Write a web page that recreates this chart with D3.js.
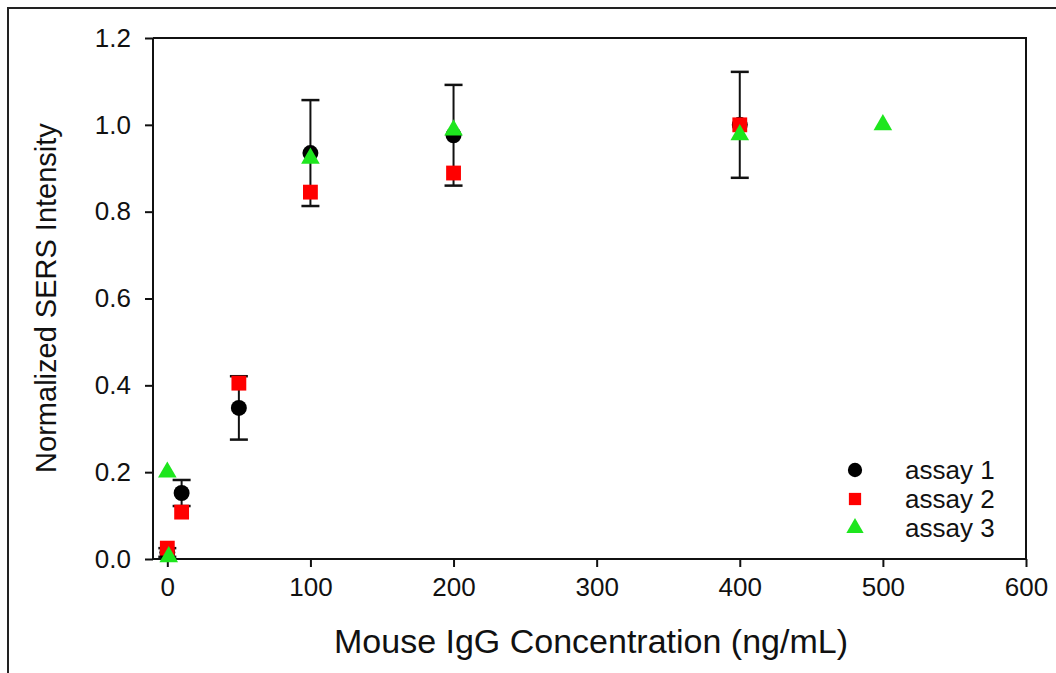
<!DOCTYPE html>
<html><head><meta charset="utf-8">
<script src="https://cdn.jsdelivr.net/npm/d3@7"></script>
<style>body{margin:0;background:#fff}svg{display:block}text{font-family:"Liberation Sans",Arial,sans-serif;fill:#111}</style>
</head><body><svg id="c" width="1056" height="673"></svg>
<script>
// data
const xTicks = [0,100,200,300,400,500,600];
const yTicks = [0,0.2,0.4,0.6,0.8,1.0,1.2];
const a1X = [0,10,50,100,200,400];
const a1Y = [0.015,0.152,0.348,0.935,0.976,1.0];
const a1Err = [0.01,0.03,0.073,0.122,0.116,0.122];
const a2X = [0,10,50,100,200,400];
const a2Y = [0.025,0.108,0.405,0.845,0.889,1.0];
const a3X = [0,1,100,200,400,500];
const a3Y = [0.2,0.005,0.923,0.988,0.977,1.0];
const legendLabels = ["assay 1","assay 2","assay 3"];
const xTitle = "Mouse IgG Concentration (ng/mL)";
const yTitle = "Normalized SERS Intensity";

const svg = d3.select("#c");
const L=153,R=1026,T=38,B=559;
const x = d3.scaleLinear().domain([-10,600]).range([L,R]);
const y = d3.scaleLinear().domain([0,1.2]).range([B,T]);

// outer border (left & top)
svg.append("path").attr("d","M8,673 L8,8 L1056,8").attr("fill","none").attr("stroke","#222").attr("stroke-width",2);

// frame top/right
svg.append("path").attr("d",`M${L},${T} L${R},${T} L${R},${B}`).attr("fill","none").attr("stroke","#111").attr("stroke-width",2);

const xa = svg.append("g").attr("transform",`translate(0,${B})`)
  .call(d3.axisBottom(x).tickValues(xTicks).tickFormat(d3.format("d")).tickSize(8).tickPadding(11));
const ya = svg.append("g").attr("transform",`translate(${L},0)`)
  .call(d3.axisLeft(y).tickValues(yTicks).tickFormat(d3.format(".1f")).tickSize(8).tickPadding(14));
[xa,ya].forEach(g=>{
  g.select(".domain").attr("stroke","#111").attr("stroke-width",2);
  g.selectAll(".tick line").attr("stroke","#111").attr("stroke-width",2);
  g.selectAll("text").style("font-size","26px").attr("fill","#111");
});
ya.select(".domain").attr("d",`M0,${B}V${T}`);
xa.select(".domain").attr("d",`M${L},0H${R}`);

// titles
svg.append("text").attr("x",591).attr("y",653).attr("text-anchor","middle").style("font-size","34px").text(xTitle);
svg.append("text").attr("transform","translate(56,298) rotate(-90)").attr("text-anchor","middle").style("font-size","29px").text(yTitle);

// error bars assay 1
const eb = svg.append("g");
a1X.forEach((xv,i)=>{
  const cx=x(xv), y0=y(a1Y[i]-a1Err[i]), y1=y(a1Y[i]+a1Err[i]);
  eb.append("line").attr("x1",cx).attr("x2",cx).attr("y1",y0).attr("y2",y1).attr("stroke","#111").attr("stroke-width",2);
  [y0,y1].forEach(yy=>eb.append("line").attr("x1",cx-9).attr("x2",cx+9).attr("y1",yy).attr("y2",yy).attr("stroke","#111").attr("stroke-width",2.5));
});

const sym = (type,size)=>d3.symbol().type(type).size(size)();
svg.append("g").selectAll("path").data(a1X).join("path")
  .attr("d",sym(d3.symbolCircle,200)).attr("fill","#000")
  .attr("transform",(d,i)=>`translate(${x(d)},${y(a1Y[i])})`);
svg.append("g").selectAll("path").data(a2X).join("path")
  .attr("d",sym(d3.symbolSquare,220)).attr("fill","#f00")
  .attr("transform",(d,i)=>`translate(${x(d)},${y(a2Y[i])})`);
svg.append("g").selectAll("path").data(a3X).join("path")
  .attr("d",sym(d3.symbolTriangle,150)).attr("fill","#1ee61e")
  .attr("transform",(d,i)=>`translate(${x(d)},${y(a3Y[i])})`);

// legend
const lg = svg.append("g");
const ly=[470,499,528];
const lsym=[[d3.symbolCircle,160,"#000"],[d3.symbolSquare,150,"#f00"],[d3.symbolTriangle,130,"#1ee61e"]];
legendLabels.forEach((t,i)=>{
  lg.append("path").attr("d",sym(lsym[i][0],lsym[i][1])).attr("fill",lsym[i][2]).attr("transform",`translate(855,${ly[i]})`);
  lg.append("text").attr("x",905).attr("y",ly[i]+9).style("font-size","26px").text(t);
});
</script></body></html>
